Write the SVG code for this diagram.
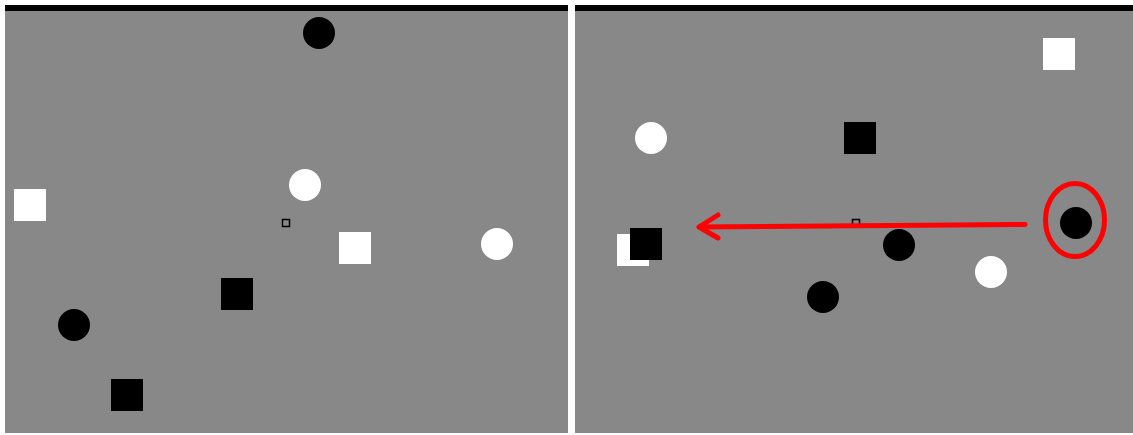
<svg xmlns="http://www.w3.org/2000/svg" width="1133" height="435" viewBox="0 0 1133 435">
<style>
.panel{fill:#888888}
.bar{fill:#000000}
.wc{fill:#ffffff}
.bc{fill:#000000}
.ws{fill:#ffffff}
.bs{fill:#000000}
.tiny{fill:none;stroke:#000000;stroke-width:1.5}
.red{fill:none;stroke:#ff0000;stroke-width:5;stroke-linecap:round;stroke-linejoin:round}
</style>
<rect x="0" y="0" width="1133" height="435" fill="#ffffff"/>
<g id="left-panel">
<rect class="panel" x="5" y="10" width="563" height="423"/>
<rect class="bar" x="5" y="5" width="563" height="6"/>
<circle class="bc" cx="319" cy="33" r="16"/>
<circle class="wc" cx="305" cy="185" r="16"/>
<rect class="tiny" x="282.5" y="219.5" width="7" height="7"/>
<rect class="ws" x="14" y="189" width="32" height="32"/>
<rect class="ws" x="339" y="232" width="32" height="32"/>
<circle class="wc" cx="497" cy="244" r="16"/>
<rect class="bs" x="221" y="278" width="32" height="32"/>
<circle class="bc" cx="74" cy="325" r="16"/>
<rect class="bs" x="111" y="379" width="32" height="32"/>
</g>
<g id="right-panel">
<rect class="panel" x="575" y="10" width="558" height="423"/>
<rect class="bar" x="575" y="5" width="558" height="6"/>
<rect class="ws" x="1043" y="38" width="32" height="32"/>
<circle class="wc" cx="651" cy="138" r="16"/>
<rect class="bs" x="844" y="122" width="32" height="32"/>
<rect class="tiny" x="852.5" y="219.5" width="7" height="7"/>
<rect class="ws" x="617" y="234" width="32" height="32"/>
<rect class="bs" x="630" y="228" width="32" height="32"/>
<circle class="bc" cx="899" cy="245" r="16"/>
<circle class="wc" cx="991" cy="272" r="16"/>
<circle class="bc" cx="823" cy="297" r="16"/>
<circle class="bc" cx="1076" cy="223" r="16"/>
</g>
<g id="annotations">
<path class="red" d="M1025 224.5 L699 227"/>
<path class="red" d="M718 215 L699 227 L718 238"/>
<ellipse class="red" cx="1075" cy="220" rx="29.5" ry="36.5"/>
</g>
</svg>
